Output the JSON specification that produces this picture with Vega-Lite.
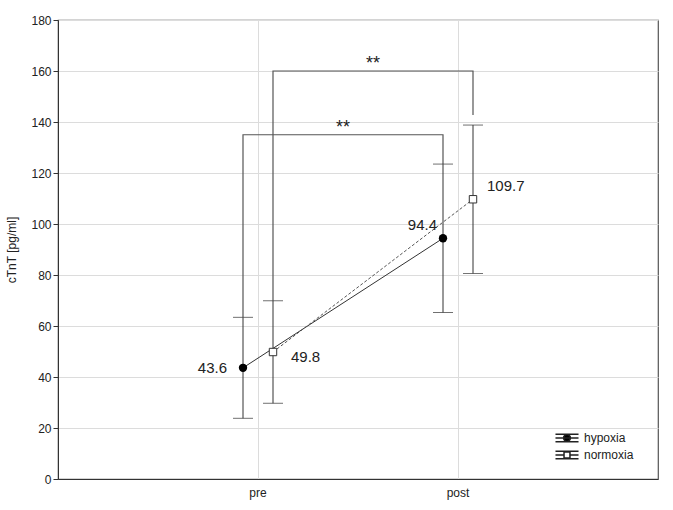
{
  "$schema": "https://vega.github.io/schema/vega-lite/v6.json",
  "width": 600,
  "height": 459,
  "autosize": "none",
  "padding": {"left": 58, "top": 20, "right": 15, "bottom": 31},
  "background": "white",
  "config": {
    "font": "Liberation Sans",
    "view": {"stroke": "#555", "strokeWidth": 1.2},
    "axis": {
      "labelFont": "Liberation Sans",
      "labelFontSize": 12,
      "labelColor": "#222",
      "titleFont": "Liberation Sans",
      "titleFontSize": 12,
      "titleFontWeight": "normal",
      "titleColor": "#222",
      "gridColor": "#dcdcdc",
      "gridWidth": 1,
      "domainColor": "#333",
      "tickColor": "#333"
    },
    "legend": {"labelFont": "Liberation Sans", "labelFontSize": 12, "labelColor": "#222"}
  },
  "datasets": {
    "means": [
      {"time": "pre", "group": "hypoxia", "mean": 43.6, "lo": 23.8, "hi": 63.4},
      {"time": "post", "group": "hypoxia", "mean": 94.4, "lo": 65.3, "hi": 123.5},
      {"time": "pre", "group": "normoxia", "mean": 49.8, "lo": 29.7, "hi": 69.9},
      {"time": "post", "group": "normoxia", "mean": 109.7, "lo": 80.6, "hi": 138.8}
    ],
    "brackets": [
      {"group": "hypoxia", "time": "pre", "value": 63.4, "step": 1},
      {"group": "hypoxia", "time": "pre", "value": 135, "step": 2},
      {"group": "hypoxia", "time": "post", "value": 135, "step": 3},
      {"group": "hypoxia", "time": "post", "value": 123.5, "step": 4},
      {"group": "normoxia", "time": "pre", "value": 69.9, "step": 1},
      {"group": "normoxia", "time": "pre", "value": 160, "step": 2},
      {"group": "normoxia", "time": "post", "value": 160, "step": 3},
      {"group": "normoxia", "time": "post", "value": 142.7, "step": 4}
    ],
    "stars": [
      {"group": "hypoxia", "time": "pre", "value": 135, "label": "**"},
      {"group": "normoxia", "time": "pre", "value": 160, "label": "**"}
    ]
  },
  "encoding": {
    "x": {
      "field": "time",
      "type": "nominal",
      "scale": {"type": "band", "domain": ["pre", "post"], "paddingInner": 0, "paddingOuter": 0.5},
      "axis": {"title": null, "labelAngle": 0, "ticks": false, "grid": true, "bandPosition": 0.5, "labelPadding": 8}
    },
    "xOffset": {
      "field": "group",
      "type": "nominal",
      "scale": {"domain": ["hypoxia", "normoxia"], "range": [70, 130], "paddingInner": 0, "paddingOuter": 0}
    }
  },
  "layer": [
    {
      "data": {"name": "brackets"},
      "mark": {"type": "line", "color": "#555", "strokeWidth": 1.2},
      "encoding": {
        "y": {
          "field": "value",
          "type": "quantitative",
          "scale": {"domain": [0, 180], "nice": false},
          "axis": {"title": "cTnT [pg/ml]", "values": [0, 20, 40, 60, 80, 100, 120, 140, 160, 180], "tickSize": 5, "titlePadding": 12, "labelPadding": 2}
        },
        "detail": {"field": "group"},
        "order": {"field": "step"}
      }
    },
    {
      "data": {"name": "stars"},
      "mark": {"type": "text", "dx": 100, "dy": 2, "baseline": "bottom", "fontSize": 18, "color": "#222"},
      "encoding": {
        "y": {"field": "value", "type": "quantitative"},
        "text": {"field": "label"}
      }
    },
    {
      "data": {"name": "means"},
      "mark": {"type": "rule", "color": "#333", "strokeWidth": 1},
      "encoding": {
        "y": {"field": "lo", "type": "quantitative"},
        "y2": {"field": "hi"}
      }
    },
    {
      "data": {"name": "means"},
      "mark": {"type": "tick", "color": "#333", "size": 20, "thickness": 1},
      "encoding": {"y": {"field": "hi", "type": "quantitative"}}
    },
    {
      "data": {"name": "means"},
      "mark": {"type": "tick", "color": "#333", "size": 20, "thickness": 1},
      "encoding": {"y": {"field": "lo", "type": "quantitative"}}
    },
    {
      "data": {"name": "means"},
      "transform": [{"filter": "datum.group === 'hypoxia'"}],
      "mark": {"type": "line", "color": "#333", "strokeWidth": 1},
      "encoding": {"y": {"field": "mean", "type": "quantitative"}}
    },
    {
      "data": {"name": "means"},
      "transform": [{"filter": "datum.group === 'normoxia'"}],
      "mark": {"type": "line", "color": "#555", "strokeWidth": 1, "strokeDash": [3, 2]},
      "encoding": {"y": {"field": "mean", "type": "quantitative"}}
    },
    {
      "data": {"name": "means"},
      "transform": [{"filter": "datum.group === 'hypoxia'"}],
      "mark": {"type": "point", "shape": "circle", "filled": true, "color": "black", "size": 70, "opacity": 1},
      "encoding": {"y": {"field": "mean", "type": "quantitative"}}
    },
    {
      "data": {"name": "means"},
      "transform": [{"filter": "datum.group === 'normoxia'"}],
      "mark": {"type": "point", "shape": "square", "filled": true, "fill": "white", "stroke": "#333", "strokeWidth": 1, "size": 55, "opacity": 1},
      "encoding": {"y": {"field": "mean", "type": "quantitative"}}
    },
    {
      "data": {"name": "means"},
      "transform": [{"filter": "datum.group === 'hypoxia' && datum.time === 'pre'"}],
      "mark": {"type": "text", "align": "right", "baseline": "middle", "dx": -16, "dy": 0, "fontSize": 15, "color": "#222"},
      "encoding": {"y": {"field": "mean", "type": "quantitative"}, "text": {"field": "mean", "format": ".1f"}}
    },
    {
      "data": {"name": "means"},
      "transform": [{"filter": "datum.group === 'normoxia' && datum.time === 'pre'"}],
      "mark": {"type": "text", "align": "left", "baseline": "middle", "dx": 18, "dy": 5, "fontSize": 15, "color": "#222"},
      "encoding": {"y": {"field": "mean", "type": "quantitative"}, "text": {"field": "mean", "format": ".1f"}}
    },
    {
      "data": {"name": "means"},
      "transform": [{"filter": "datum.group === 'hypoxia' && datum.time === 'post'"}],
      "mark": {"type": "text", "align": "right", "baseline": "middle", "dx": -6, "dy": -13, "fontSize": 15, "color": "#222"},
      "encoding": {"y": {"field": "mean", "type": "quantitative"}, "text": {"field": "mean", "format": ".1f"}}
    },
    {
      "data": {"name": "means"},
      "transform": [{"filter": "datum.group === 'normoxia' && datum.time === 'post'"}],
      "mark": {"type": "text", "align": "left", "baseline": "middle", "dx": 14, "dy": -13, "fontSize": 15, "color": "#222"},
      "encoding": {"y": {"field": "mean", "type": "quantitative"}, "text": {"field": "mean", "format": ".1f"}}
    },
    {
      "data": {"name": "means"},
      "mark": {"type": "point", "filled": false, "fillOpacity": 0, "strokeOpacity": 0, "stroke": "#222", "strokeWidth": 1},
      "encoding": {
        "y": {"field": "mean", "type": "quantitative"},
        "shape": {
          "field": "group",
          "type": "nominal",
          "scale": {
            "domain": ["hypoxia", "normoxia"],
            "range": [
              "M-1.28,-0.41H1.28M-1.28,0.41H1.28M-1.28,0H1.28M0.38,0A0.38,0.38,0,1,1,-0.38,0A0.38,0.38,0,1,1,0.38,0Z",
              "M-1.28,-0.41H1.28M-1.28,0.41H1.28M-1.28,0H-0.33M0.33,0H1.28M-0.33,-0.33H0.33V0.33H-0.33Z"
            ]
          },
          "legend": {
            "title": null,
            "orient": "none",
            "legendX": 499,
            "legendY": 408,
            "symbolSize": 324,
            "labelOffset": 7,
            "rowPadding": 0,
            "encode": {"symbols": {"update": {"opacity": {"value": 1}, "fillOpacity": {"value": 1}, "strokeOpacity": {"value": 1}, "stroke": {"value": "#222"}, "strokeWidth": {"value": 1}}}}
          }
        },
        "fill": {
          "field": "group",
          "type": "nominal",
          "scale": {"domain": ["hypoxia", "normoxia"], "range": ["black", "white"]},
          "legend": null
        }
      }
    }
  ]
}
